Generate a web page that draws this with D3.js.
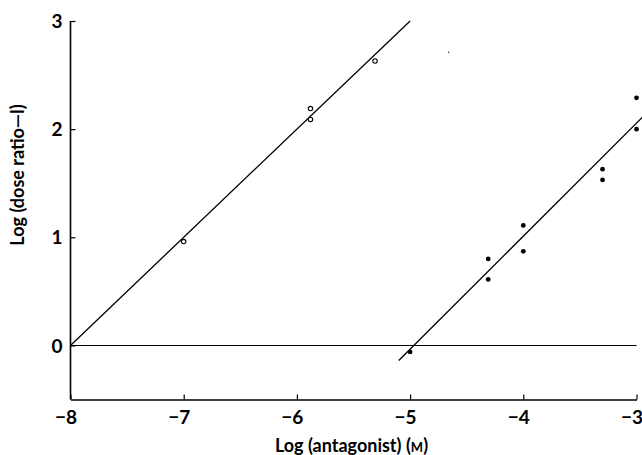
<!DOCTYPE html>
<html>
<head>
<meta charset="utf-8">
<script src="https://cdn.jsdelivr.net/npm/d3@7"></script>
<style>
    body { margin: 0; background: #fff; }
    text { font-family: Lato, "Open Sans", sans-serif; font-weight: bold; fill: #000; }
</style>
</head>
<body>
<div id="wrapper"></div>
<script>
// open circles: first antagonist
const openX = [-7.0, -5.88, -5.88, -5.31];
const openY = [0.96, 2.19, 2.09, 2.63];
// filled circles: second antagonist
const filledX = [-5.0, -4.31, -4.31, -4.0, -4.0, -3.3, -3.3, -3.0, -3.0];
const filledY = [-0.06, 0.80, 0.61, 1.11, 0.87, 1.63, 1.53, 2.29, 2.0];
// stray speck in the print
const speckX = [-4.66];
const speckY = [2.71];
// regression lines
const lineA = [[-8, 0], [-5, 3]];
const lineB = [[-5.1, -0.14], [-2.9, 2.16]];

const xTicks = [-8, -7, -6, -5, -4, -3];
const yTicks = [0, 1, 2, 3];

let dimension = {
    width: 642,
    height: 455,
    margin: {
        top: 21,
        left: 70.5,
        bottom: 55.5,
        right: 5.5
    }
}
dimension.boundedWidth = dimension.width - dimension.margin.left - dimension.margin.right;
dimension.boundedHeight = dimension.height - dimension.margin.top - dimension.margin.bottom;

function buildPlot() {
    const svg = d3.select("#wrapper").append("svg")
        .attr("width", dimension.width)
        .attr("height", dimension.height);

    const bounds = svg.append("g")
        .attr("transform", `translate(${dimension.margin.left},${dimension.margin.top})`);

    const xScale = d3.scaleLinear()
        .domain([-8, -3])
        .range([0, dimension.boundedWidth]);
    const yScale = d3.scaleLinear()
        .domain([-0.5, 3])
        .range([dimension.boundedHeight, 0]);

    const fmt = d => d < 0 ? "\u2212" + Math.abs(d) : String(d);

    // x axis
    const xAxis = bounds.append("g")
        .attr("transform", `translate(0,${dimension.boundedHeight})`)
        .call(d3.axisBottom(xScale).tickValues(xTicks).tickSize(-5).tickSizeOuter(0).tickFormat(fmt));
    xAxis.select(".domain").attr("stroke-width", 1.6);
    xAxis.selectAll(".tick line").attr("stroke-width", 1.2);
    xAxis.selectAll("text")
        .attr("y", 24)
        .attr("dy", 0)
        .attr("x", 6)
        .attr("text-anchor", "end")
        .style("font-size", "19px")
        .style("font-family", "Lato, sans-serif");

    // y axis
    const yAxis = bounds.append("g")
        .call(d3.axisLeft(yScale).tickValues(yTicks).tickSize(-5).tickSizeOuter(0).tickFormat(fmt));
    yAxis.select(".domain").attr("stroke-width", 1.6)
        .attr("d", `M0,${yScale(3)}V${yScale(-0.5)}`);
    yAxis.selectAll(".tick line").attr("stroke-width", 1.2);
    yAxis.selectAll("text")
        .attr("x", -8)
        .attr("dy", "0.35em")
        .style("font-size", "19px")
        .style("font-family", "Lato, sans-serif");

    // zero line
    bounds.append("line")
        .attr("x1", xScale(-8))
        .attr("x2", xScale(-3))
        .attr("y1", yScale(0))
        .attr("y2", yScale(0))
        .attr("stroke", "#000")
        .attr("stroke-width", 1.1);

    const line = d3.line()
        .x(d => xScale(d[0]))
        .y(d => yScale(d[1]));

    [lineA, lineB].forEach(l => {
        bounds.append("path")
            .attr("d", line(l))
            .attr("fill", "none")
            .attr("stroke", "#000")
            .attr("stroke-width", 1.3);
    });

    bounds.selectAll("circle.open")
        .data(openX)
        .enter()
        .append("circle")
        .attr("class", "open")
        .attr("cx", d => xScale(d))
        .attr("cy", (d, i) => yScale(openY[i]))
        .attr("r", 2.2)
        .attr("fill", "#fff")
        .attr("stroke", "#000")
        .attr("stroke-width", 1.1);

    bounds.selectAll("circle.filled")
        .data(filledX)
        .enter()
        .append("circle")
        .attr("class", "filled")
        .attr("cx", d => xScale(d))
        .attr("cy", (d, i) => yScale(filledY[i]))
        .attr("r", 2.4)
        .attr("fill", "#000");

    bounds.selectAll("circle.speck")
        .data(speckX)
        .enter()
        .append("circle")
        .attr("class", "speck")
        .attr("cx", d => xScale(d))
        .attr("cy", (d, i) => yScale(speckY[i]))
        .attr("r", 0.8)
        .attr("fill", "#444");

    // axis titles
    const xTitle = svg.append("text")
        .attr("x", dimension.margin.left + dimension.boundedWidth / 2 - 2)
        .attr("y", 452)
        .attr("text-anchor", "middle")
        .style("font-size", "18px");
    xTitle.append("tspan").text("Log (antagonist) (");
    xTitle.append("tspan").style("font-size", "13px").text("M");
    xTitle.append("tspan").text(")");

    svg.append("text")
        .attr("transform", "translate(24,175) rotate(-90)")
        .attr("text-anchor", "middle")
        .style("font-size", "18px")
        .text("Log (dose ratio\u2014l)");
}

buildPlot()
</script>
</body>
</html>
